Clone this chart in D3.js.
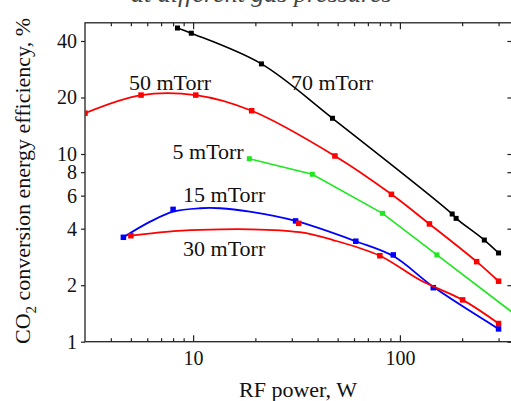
<!DOCTYPE html>
<html>
<head>
<meta charset="utf-8">
<script src="https://cdn.jsdelivr.net/npm/d3@7"></script>
<style>
body { margin: 0; background: #fff; }
svg { display: block; font-family: "Liberation Serif", "Times New Roman", serif; }
</style>
</head>
<body>
<div id="plot"></div>
<script>
var width = 511;
var height = 401;
var plotLeft = 85, plotRight = 512.4, plotTop = 22.8, plotBottom = 341.7;

// RF power (W) and CO2 conversion energy efficiency (%)
var w70 = [8.4, 9.8, 21.4, 47.2, 179, 187, 256, 300];
var e70 = [46.9, 44.0, 30.2, 15.5, 4.79, 4.54, 3.48, 2.97];

var w50 = [3.0, 5.6, 10.3, 19.2, 48.5, 91, 139, 235, 300];
var e50 = [16.5, 20.6, 20.6, 17.0, 9.76, 6.1, 4.24, 2.67, 2.1];

var w5 = [18.7, 37.7, 82.4, 151, 400];
var e5 = [9.44, 7.8, 4.83, 2.9, 1.28];

var w15 = [4.6, 8.0, 31.3, 61.2, 92.9, 145, 300];
var e15 = [3.6, 5.07, 4.4, 3.43, 2.9, 1.94, 1.17];
var fitW15 = [4.6, 6.2, 8.0, 10.8, 13.5, 18.8, 31.3, 61.2, 92.9, 145, 300];
var fitE15 = [3.6, 4.36, 4.93, 5.14, 5.14, 4.93, 4.4, 3.43, 2.86, 1.96, 1.17];

var w30 = [5.0, 32.4, 80, 201, 300];
var e30 = [3.67, 4.27, 2.87, 1.67, 1.25];
var fitW30 = [5.0, 7.4, 10.8, 18.8, 32.8, 47.5, 80, 125, 201, 300];
var fitE30 = [3.67, 3.85, 3.94, 3.97, 3.83, 3.48, 2.87, 2.13, 1.67, 1.25];

var yTicks = [1, 2, 4, 6, 8, 10, 20, 40];
var xMajor = [10, 100];
var xMinor = [4, 5, 6, 7, 8, 9, 20, 30, 40, 50, 60, 70, 80, 90, 200, 300];

// label anchor (left end of baseline) in data units
var labels = [
	{text: '70 mTorr', w: 29.7, e: 21.9},
	{text: '50 mTorr', w: 4.89, e: 21.9},
	{text: '5 mTorr', w: 7.95, e: 9.4},
	{text: '15 mTorr', w: 8.94, e: 5.55},
	{text: '30 mTorr', w: 8.94, e: 2.86}
];

function zip(a, b){
	var out = [];
	for (var i = 0; i < a.length; i++){
		out.push([a[i], b[i]]);
	}
	return out;
}

var svg = d3.select('#plot').append('svg')
	.attr('width', width)
	.attr('height', height);

var x = d3.scaleLog().domain([3, 350]).range([plotLeft, plotRight]);
var y = d3.scaleLog().domain([1, 50]).range([plotBottom, plotTop]);

svg.append('clipPath').attr('id', 'clip')
	.append('rect')
	.attr('x', plotLeft).attr('y', plotTop)
	.attr('width', plotRight - plotLeft).attr('height', plotBottom - plotTop);

// half hidden title at the very top
svg.append('text')
	.attr('x', 131).attr('y', 2)
	.attr('font-size', 26).attr('font-style', 'italic')
	.attr('fill', '#444')
	.text('at different gas pressures');

var axisColor = '#222';

svg.append('g')
	.attr('transform', 'translate(0,' + plotBottom + ')')
	.call(d3.axisBottom(x).tickValues(xMajor).tickSize(-6.5).tickPadding(9).tickFormat(d3.format('d')))
	.call(function(g){ g.select('.domain').remove(); });
svg.append('g')
	.attr('transform', 'translate(0,' + plotBottom + ')')
	.call(d3.axisBottom(x).tickValues(xMinor).tickSize(-3.5).tickFormat(''))
	.call(function(g){ g.select('.domain').remove(); });
svg.append('g')
	.attr('transform', 'translate(0,' + plotTop + ')')
	.call(d3.axisTop(x).tickValues(xMajor).tickSize(-6.5).tickFormat(''))
	.call(function(g){ g.select('.domain').remove(); });
svg.append('g')
	.attr('transform', 'translate(0,' + plotTop + ')')
	.call(d3.axisTop(x).tickValues(xMinor).tickSize(-3.5).tickFormat(''))
	.call(function(g){ g.select('.domain').remove(); });
svg.append('g')
	.attr('transform', 'translate(' + plotLeft + ',0)')
	.call(d3.axisLeft(y).tickValues(yTicks).tickSize(4).tickPadding(4).tickFormat(d3.format('d')))
	.call(function(g){ g.select('.domain').remove(); });
svg.append('g')
	.attr('transform', 'translate(' + plotRight + ',0)')
	.call(d3.axisRight(y).tickValues(yTicks).tickSize(-5).tickFormat(''))
	.call(function(g){ g.select('.domain').remove(); });

svg.selectAll('.tick line').attr('stroke', axisColor).attr('stroke-width', 1.2);
svg.selectAll('.tick text')
	.attr('font-family', '"Liberation Serif", "Times New Roman", serif')
	.attr('font-size', 20).attr('fill', '#111');

svg.append('rect')
	.attr('x', plotLeft).attr('y', plotTop)
	.attr('width', plotRight - plotLeft).attr('height', plotBottom - plotTop)
	.attr('fill', 'none').attr('stroke', axisColor).attr('stroke-width', 1.3);

// axis titles
svg.append('text')
	.attr('x', 298).attr('y', 397)
	.attr('text-anchor', 'middle')
	.attr('font-size', 22).attr('fill', '#111')
	.text('RF power, W');

var yt = svg.append('text')
	.attr('transform', 'translate(30,181) rotate(-90)')
	.attr('text-anchor', 'middle')
	.attr('font-size', 22).attr('fill', '#111');
yt.append('tspan').text('CO');
yt.append('tspan').attr('font-size', 15).attr('dy', 6).text('2');
yt.append('tspan').attr('dy', -6).text(' conversion energy efficiency, %');

var plot = svg.append('g').attr('clip-path', 'url(#clip)');

function drawCurve(pts, color, curve, lw){
	var line = d3.line()
		.x(function(d){ return x(d[0]); })
		.y(function(d){ return y(d[1]); })
		.curve(curve);
	plot.append('path')
		.datum(pts)
		.attr('d', line)
		.attr('fill', 'none')
		.attr('stroke', color)
		.attr('stroke-width', lw);
}

function drawPoints(pts, color, size){
	plot.append('g').selectAll('rect')
		.data(pts).enter().append('rect')
		.attr('x', function(d){ return x(d[0]) - size / 2; })
		.attr('y', function(d){ return y(d[1]) - size / 2; })
		.attr('width', size).attr('height', size)
		.attr('fill', color);
}

drawCurve(zip(w70, e70), '#000', d3.curveCatmullRom.alpha(0.5), 1.6);
drawPoints(zip(w70, e70), '#000', 5);

drawCurve(zip(w50, e50), '#ff0000', d3.curveCatmullRom, 1.8);
drawPoints(zip(w50, e50), '#ff0000', 5.5);

drawCurve(zip(w5, e5), '#1ee81e', d3.curveLinear, 1.6);
drawPoints(zip(w5, e5), '#1ee81e', 5);

drawCurve(zip(fitW15, fitE15), '#0000ff', d3.curveCatmullRom, 1.8);
drawPoints(zip(w15, e15), '#0000ff', 5.5);

drawCurve(zip(fitW30, fitE30), '#ff0000', d3.curveCatmullRom, 1.8);
drawPoints(zip(w30, e30), '#ff0000', 5.5);

svg.append('g').selectAll('text')
	.data(labels).enter().append('text')
	.attr('x', function(d){ return x(d.w); })
	.attr('y', function(d){ return y(d.e); })
	.attr('font-size', 22).attr('fill', '#111')
	.text(function(d){ return d.text; });
</script>
</body>
</html>
